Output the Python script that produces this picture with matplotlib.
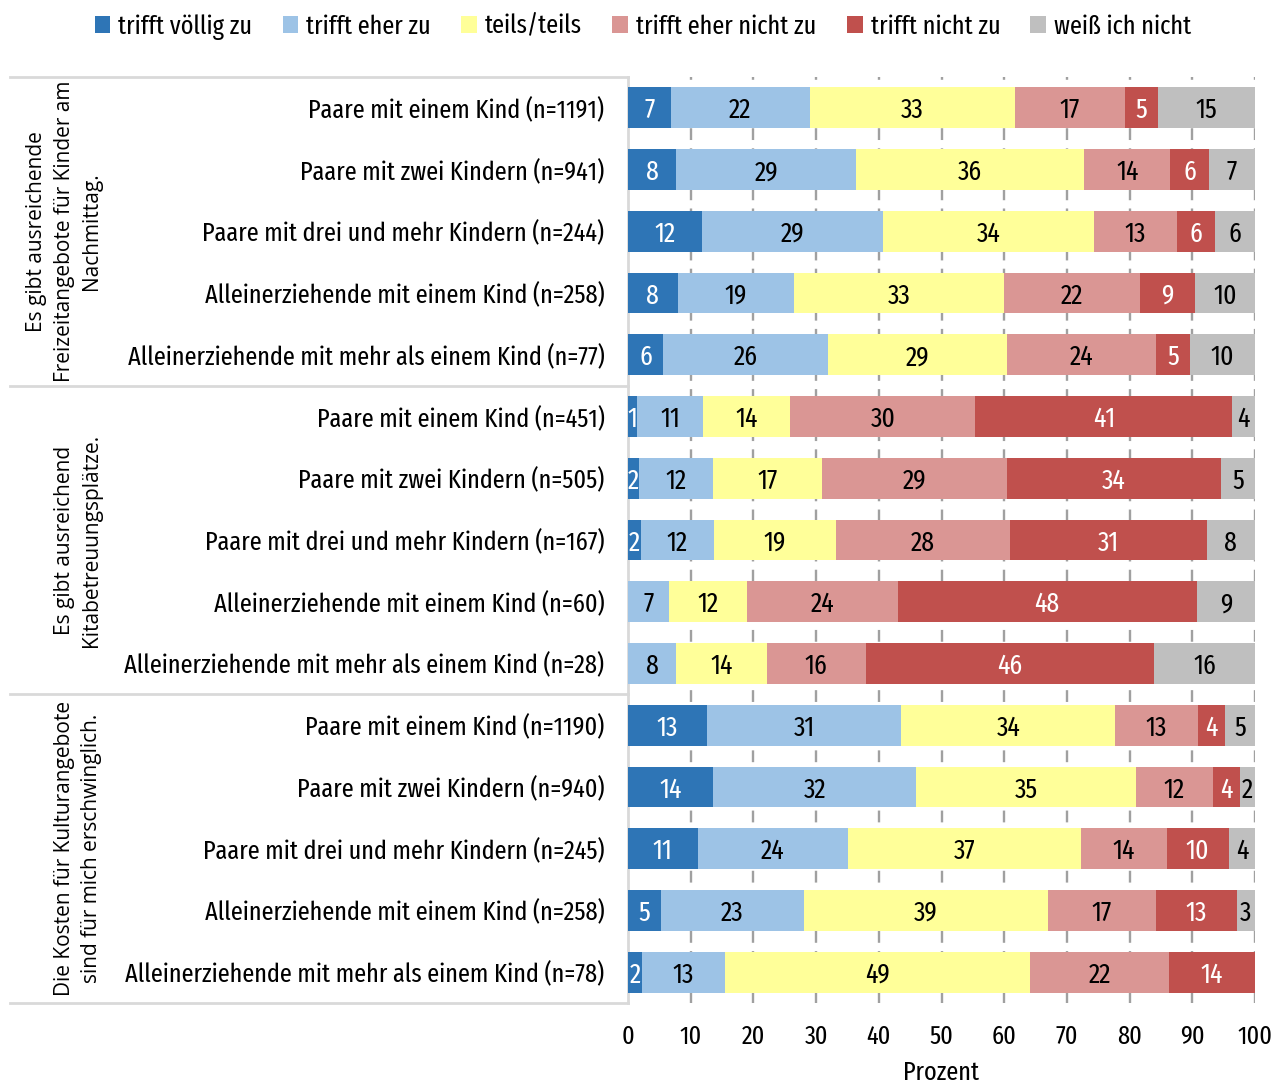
import numpy as np
import matplotlib
matplotlib.use("Agg")
import matplotlib.pyplot as plt
from matplotlib.patches import Patch

# data (percent)
categories = [
    "Paare mit einem Kind (n=1191)",
    "Paare mit zwei Kindern (n=941)",
    "Paare mit drei und mehr Kindern (n=244)",
    "Alleinerziehende mit einem Kind (n=258)",
    "Alleinerziehende mit mehr als einem Kind (n=77)",
    "Paare mit einem Kind (n=451)",
    "Paare mit zwei Kindern (n=505)",
    "Paare mit drei und mehr Kindern (n=167)",
    "Alleinerziehende mit einem Kind (n=60)",
    "Alleinerziehende mit mehr als einem Kind (n=28)",
    "Paare mit einem Kind (n=1190)",
    "Paare mit zwei Kindern (n=940)",
    "Paare mit drei und mehr Kindern (n=245)",
    "Alleinerziehende mit einem Kind (n=258)",
    "Alleinerziehende mit mehr als einem Kind (n=78)",
]
groups = [
    "Es gibt ausreichende\nFreizeitangebote für Kinder am\nNachmittag.",
    "Es gibt ausreichend\nKitabetreuungsplätze.",
    "Die Kosten für Kulturangebote\nsind für mich erschwinglich.",
]
series = ["trifft völlig zu", "trifft eher zu", "teils/teils",
          "trifft eher nicht zu", "trifft nicht zu", "weiß ich nicht"]

voellig   = [6.8, 7.7, 11.8, 7.9, 5.6, 1.4, 1.7, 2.0, 0.0, 0.0, 12.6, 13.6, 11.1, 5.2, 2.2]
eher      = [22.2, 28.7, 28.8, 18.6, 26.3, 10.6, 11.9, 11.7, 6.6, 7.7, 31.0, 32.4, 24.0, 22.8, 13.2]
teils     = [32.8, 36.4, 33.8, 33.4, 28.6, 13.9, 17.4, 19.4, 12.4, 14.4, 34.1, 35.0, 37.2, 39.0, 48.7]
eher_nich = [17.4, 13.7, 13.1, 21.8, 23.7, 29.5, 29.4, 27.9, 24.0, 15.8, 13.2, 12.3, 13.6, 17.2, 22.2]
nicht     = [5.4, 6.2, 6.2, 8.7, 5.4, 41.0, 34.2, 31.3, 47.7, 46.0, 4.3, 4.3, 9.9, 12.9, 13.7]
weiss     = [15.4, 7.3, 6.3, 9.6, 10.4, 3.6, 5.4, 7.7, 9.3, 16.1, 4.8, 2.4, 4.2, 2.9, 0.0]

colors = ["#2E75B6", "#9DC3E6", "#FFFF99", "#DA9694", "#C0504D", "#BFBFBF"]
text_colors = ["white", "black", "black", "black", "white", "black"]

plt.rcParams["font.family"] = ["Fira Sans Extra Condensed", "Roboto Condensed",
                               "Archivo Narrow", "DejaVu Sans"]
fs = 19

fig = plt.figure(figsize=(12.86, 10.86), dpi=100)
ax = fig.add_axes([628 / 1286, 1 - 1003 / 1086, 627 / 1286, 926 / 1086])

y = np.arange(len(categories))
left = np.zeros(len(categories))
for vals, col, tcol in zip([voellig, eher, teils, eher_nich, nicht, weiss], colors, text_colors):
    vals = np.array(vals)
    ax.barh(y, vals, left=left, height=0.66, color=col, zorder=3)
    for yi, v, l in zip(y, vals, left):
        if v > 0:
            ax.text(l + v / 2, yi, f"{v:.0f}", ha="center", va="center_baseline",
                    fontsize=20, color=tcol, zorder=4)
    left += vals

ax.set_xlim(0, 100)
ax.set_ylim(14.5, -0.5)
ax.set_yticks(y)
ax.set_yticklabels(categories, fontsize=fs)
ax.set_xticks(np.arange(0, 101, 10))
ax.tick_params(axis="x", labelsize=fs, length=0, pad=15)
ax.tick_params(axis="y", length=0, pad=17)
ax.set_xlabel("Prozent", fontsize=fs, labelpad=8)

for s in ["top", "right", "bottom"]:
    ax.spines[s].set_visible(False)
ax.spines["left"].set_color("#D9D9D9")
ax.spines["left"].set_linewidth(2)

for xv in range(10, 101, 10):
    ax.axvline(xv, color="#A0A0A0", lw=1.7, ls=(0, (5, 3.5)), zorder=1)

# table lines on the left side
tr = ax.get_yaxis_transform()
for yb in [-0.5, 4.5, 9.5, 14.5]:
    ax.plot([-618 / 627, 0], [yb, yb], transform=tr, color="#D9D9D9",
            lw=2, clip_on=False, zorder=2)

for i, g in enumerate(groups):
    ax.text(-526 / 627, i * 5 + 2, g, transform=tr, rotation=90,
            ha="right", va="center", multialignment="center",
            fontsize=15, family=["Open Sans", "DejaVu Sans"],
            linespacing=1.4)

handles = [Patch(facecolor=c, label=s) for c, s in zip(colors, series)]
fig.legend(handles=handles, loc="upper center", bbox_to_anchor=(0.5, 1.009),
           ncol=6, frameon=False, fontsize=fs, handlelength=0.6,
           handleheight=0.6, handletextpad=0.3, columnspacing=1.15)

fig.savefig("out.png", dpi=100)
